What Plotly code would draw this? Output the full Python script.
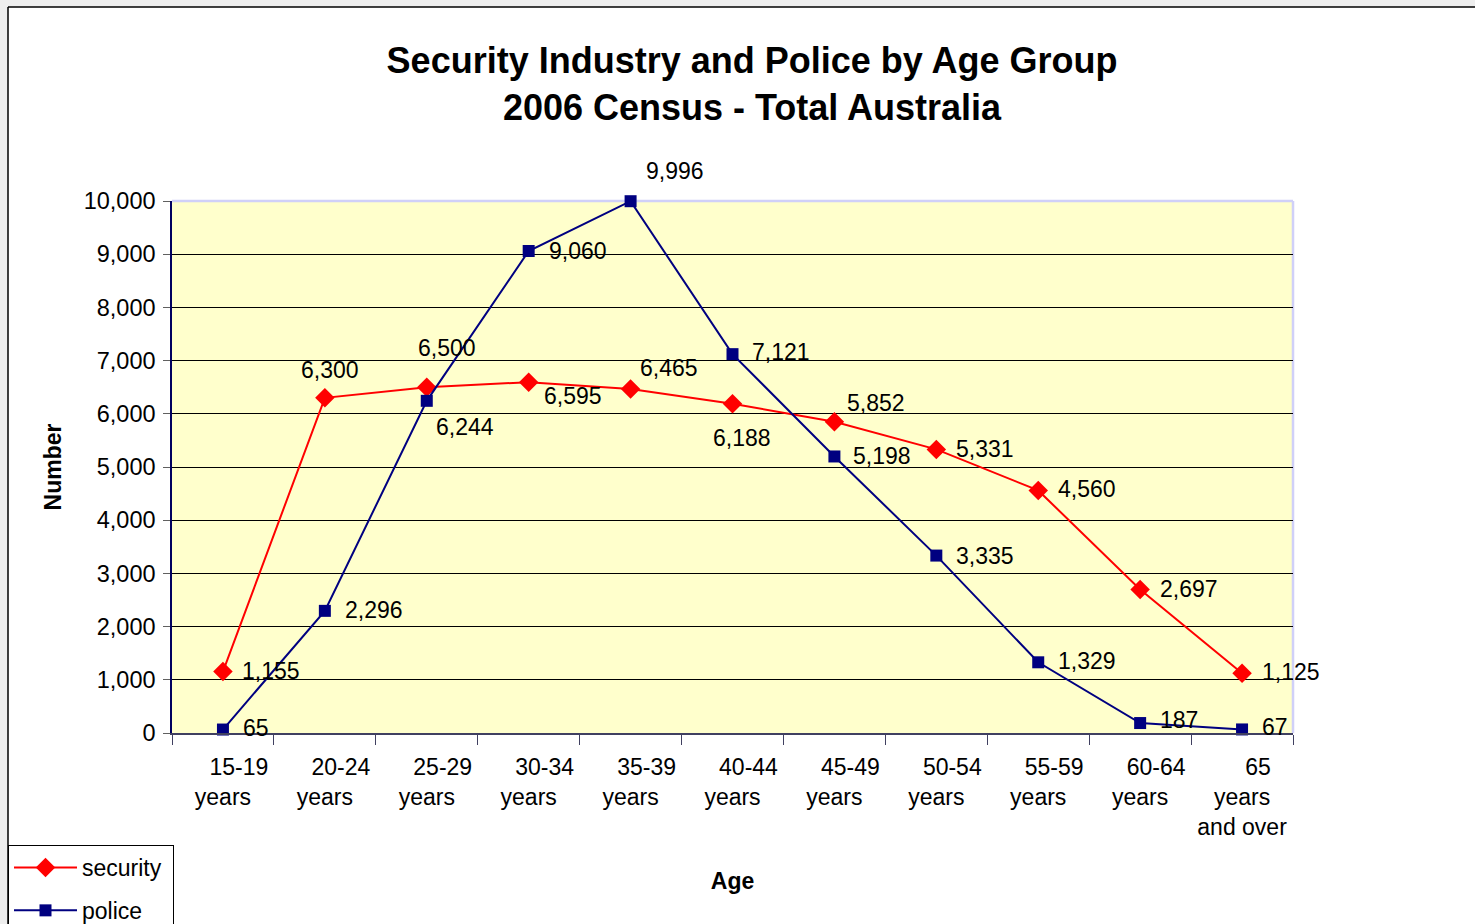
import plotly.graph_objects as go

categories = ["15-19<br>years", "20-24<br>years", "25-29<br>years", "30-34<br>years",
              "35-39<br>years", "40-44<br>years", "45-49<br>years", "50-54<br>years",
              "55-59<br>years", "60-64<br>years", "65<br>years<br>and over"]
security = [1155, 6300, 6500, 6595, 6465, 6188, 5852, 5331, 4560, 2697, 1125]
police = [65, 2296, 6244, 9060, 9996, 7121, 5198, 3335, 1329, 187, 67]
y_ticks = list(range(0, 10001, 1000))

# label offsets (pixels, label centre relative to marker; +dy = down)
sec_off = [(48, -1), (5, -28), (20, -39), (44, 14), (38, -21), (9, 34),
           (42, -19), (49, 0), (49, -1), (49, -1), (49, -1)]
pol_off = [(33, -2), (49, -1), (38, 26), (49, 0), (44, -30), (48, -2),
           (48, 0), (49, 0), (49, -1), (39, -3), (33, -2)]

FONT = "Liberation Sans, Arial, sans-serif"
W, H = 1475, 924
L, R, T, B = 172, 1293, 201, 733
PW, PH = R - L, B - T
NB = "\u00a0"


def px(x):
    return (x - L) / PW


def py(y):
    return (B - y) / PH


# tick text: first line nudged right as in the original chart
tick_text = [NB * 5 + c for c in categories]

fig = go.Figure()
fig.add_trace(go.Scatter(
    x=categories, y=security, name="security" + NB, mode="lines+markers",
    line=dict(color="#FF0000", width=2),
    marker=dict(symbol="diamond", size=15, color="#FF0000"),
    legendgroup="a", cliponaxis=False))
fig.add_trace(go.Scatter(
    x=categories, y=police, name="police", mode="lines+markers",
    line=dict(color="#000080", width=2),
    marker=dict(symbol="square", size=12, color="#000080"),
    legendgroup="b", cliponaxis=False))

annotations = []
for vals, offs in ((security, sec_off), (police, pol_off)):
    for c, v, (dx, dy) in zip(categories, vals, offs):
        annotations.append(dict(
            x=c, y=v, xref="x", yref="y", text=f"{v:,}", showarrow=False,
            xanchor="center", yanchor="middle", xshift=dx, yshift=-dy,
            font=dict(family=FONT, size=23, color="black")))

shapes = [
    # grey surround outside the chart area
    dict(type="rect", xref="paper", yref="paper", x0=px(-5), x1=px(8), y0=py(H + 5), y1=py(-5),
         fillcolor="#EEEEEE", line=dict(width=0), layer="below"),
    dict(type="rect", xref="paper", yref="paper", x0=px(-5), x1=px(W + 5), y0=py(7), y1=py(-5),
         fillcolor="#EEEEEE", line=dict(width=0), layer="below"),
    dict(type="line", xref="paper", yref="paper", x0=px(8), x1=px(W + 5), y0=py(7), y1=py(7),
         line=dict(color="black", width=1.5)),
    dict(type="line", xref="paper", yref="paper", x0=px(8), x1=px(8), y0=py(7), y1=py(H + 5),
         line=dict(color="black", width=1.5)),
    # plot border (top and right)
    dict(type="line", xref="paper", yref="paper", x0=0, x1=1, y0=1, y1=1,
         line=dict(color="#D0D0F8", width=2.5), layer="below"),
    dict(type="line", xref="paper", yref="paper", x0=1, x1=1, y0=0, y1=1,
         line=dict(color="#D0D0F8", width=2.5), layer="below"),
]

fig.update_layout(
    width=W, height=H,
    margin=dict(l=L, r=W - R, t=T, b=H - B, autoexpand=False),
    paper_bgcolor="white", plot_bgcolor="#FFFFCC",
    font=dict(family=FONT, size=23, color="black"),
    title=dict(text="<b>Security Industry and Police by Age Group<br>2006 Census - Total Australia</b>",
               x=752 / W, xref="container", xanchor="center",
               y=1 - 73 / H, yref="container", yanchor="middle",
               font=dict(family=FONT, size=36, color="black")),
    xaxis=dict(type="category", tickson="boundaries", ticks="outside", ticklen=10,
               range=[-0.5, len(categories) - 0.5], tickangle=0,
               tickmode="array", tickvals=categories, ticktext=tick_text,
               tickcolor="#404060", tickwidth=1, showline=True, linecolor="#404060",
               linewidth=1.5, showgrid=False, zeroline=False, ticklabelstandoff=13,
               tickfont=dict(family=FONT, size=23, color="black"),
               title=dict(text="<b>Age</b>", standoff=34,
                          font=dict(family=FONT, size=23, color="black")),
               automargin=False),
    yaxis=dict(range=[0, 10000], tickvals=y_ticks, tickformat=",", ticks="outside",
               ticklen=7, tickcolor="#606060", showline=True, linecolor="#000060",
               linewidth=1.5, showgrid=True, gridcolor="black", gridwidth=1,
               zeroline=False, tickfont=dict(family=FONT, size=23.5, color="black"),
               ticklabelstandoff=3,
               title=dict(text="<b>Number</b>", standoff=16,
                          font=dict(family=FONT, size=23, color="black")),
               automargin=False),
    legend=dict(x=px(8), y=py(845), xanchor="left", yanchor="top",
                bordercolor="black", borderwidth=1, bgcolor="white",
                font=dict(family=FONT, size=23, color="black"),
                tracegroupgap=10, itemwidth=63),
    showlegend=True,
    annotations=annotations,
    shapes=shapes,
)

fig.write_html("out.html", config={"displayModeBar": False},
               post_script="document.body.style.margin='0';document.body.style.overflow='hidden';")
